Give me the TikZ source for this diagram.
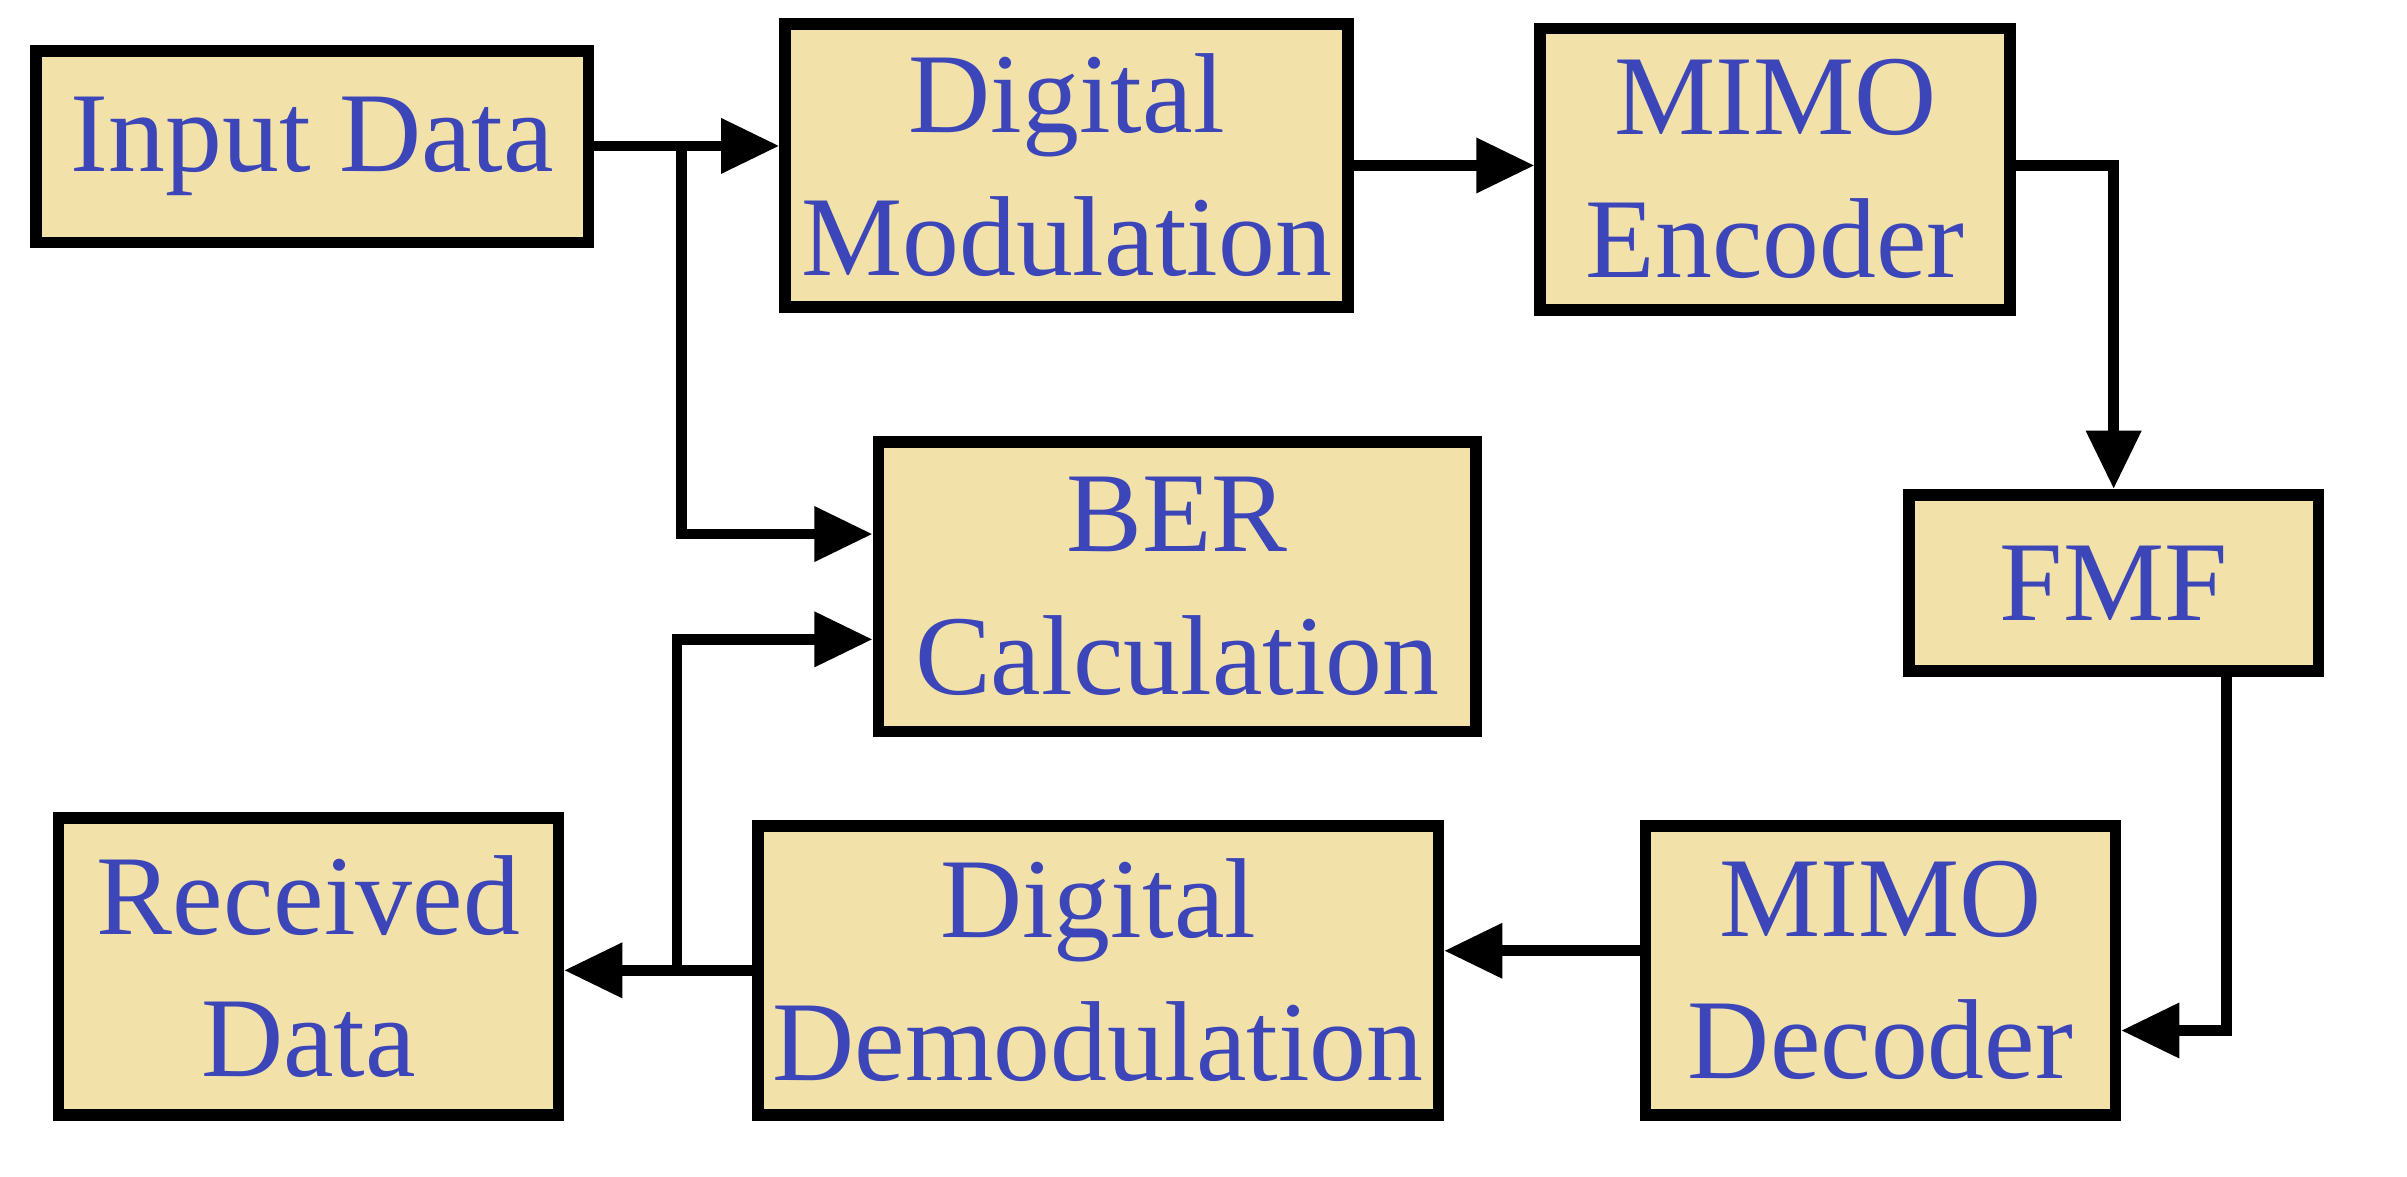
\documentclass[tikz,border=0pt]{standalone}
\usepackage{fontspec}
\setmainfont{Liberation Serif}
\usetikzlibrary{arrows.meta}
\definecolor{boxfill}{RGB}{242,226,170}
\definecolor{txt}{RGB}{60,70,185}
\begin{document}
\begin{tikzpicture}[x=0.01cm,y=-0.01cm,
  box/.style={draw=black,line width=2.2pt,fill=boxfill,text=txt,font=\fontsize{21.5}{27}\selectfont,align=center,inner sep=0pt},
  arr/.style={line width=2pt,-{Triangle[length=11pt,width=10pt]}}]
\useasboundingbox (0,0) rectangle (1600,782);
\newcommand{\bx}[6]{\node[box,minimum width=#4*0.01cm-2.2pt,minimum height=#5*0.01cm-2.2pt] (#1) at ({(#2+#4/2)},{(#3+#5/2)}) {#6};}
\bx{inp}{20}{30}{375}{135}{Input Data}
\bx{mod}{518}{12}{382}{196}{Digital\\Modulation}
\bx{enc}{1020}{15}{320}{195}{MIMO\\Encoder}
\bx{fmf}{1265}{325}{280}{125}{FMF}
\bx{ber}{580}{290}{405}{200}{BER\\Calculation}
\bx{dec}{1090}{545}{320}{200}{MIMO\\Decoder}
\bx{dem}{500}{545}{460}{200}{Digital\\Demodulation}
\bx{rec}{35}{540}{340}{205}{Received\\Data}
\coordinate (j1) at (453,97);
\coordinate (j2) at (450,645);
\draw[arr] (inp.east|-0,97) -- (mod.west|-0,97);
\draw[arr] (j1) |- (ber.west|-0,355);
\draw[arr] (mod.east|-0,110) -- (enc.west|-0,110);
\draw[arr] (enc.east|-0,110) -| (fmf.north-|1405,0);
\draw[arr] (fmf.south-|1480,0) |- (dec.east|-0,685);
\draw[arr] (dec.west|-0,632) -- (dem.east|-0,632);
\draw[arr] (dem.west|-0,645) -- (rec.east|-0,645);
\draw[arr] (j2) |- (ber.west|-0,425);
\end{tikzpicture}
\end{document}
